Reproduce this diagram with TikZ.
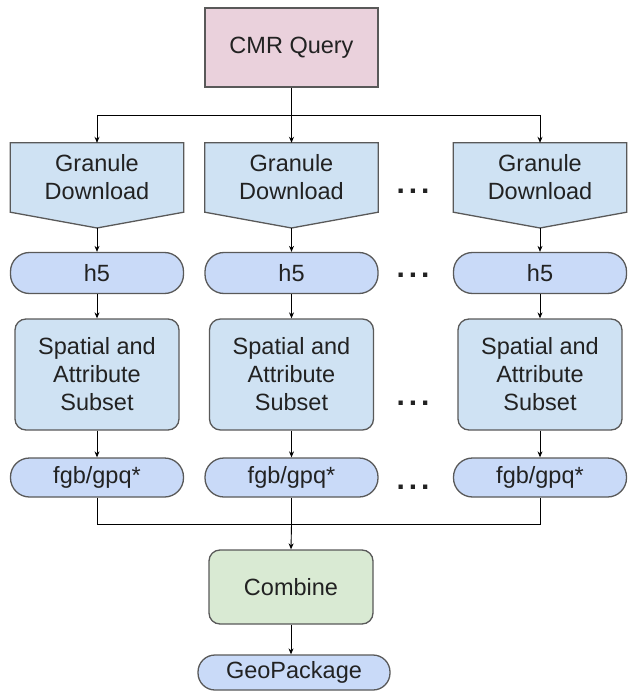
\documentclass[tikz,border=0pt]{standalone}
\usepackage{fontspec}
\setmainfont{Liberation Sans}
\usetikzlibrary{arrows.meta, backgrounds}

% Colores de las cajas
\definecolor{bordeGris}{HTML}{595959}
\definecolor{rosaConsulta}{HTML}{EAD1DC}
\definecolor{azulCaja}{HTML}{CFE2F3}
\definecolor{azulDato}{HTML}{C9DAF8}
\definecolor{verdeUnion}{HTML}{D9EAD3}
\definecolor{textoOscuro}{HTML}{222222}

\begin{document}
\begin{tikzpicture}[x=1pt, y=-1pt,
    caja/.style={draw=bordeGris, line width=1.3pt, text=textoOscuro, align=center,
        inner sep=0pt, font=\fontsize{23.5}{28}\selectfont},
    descarga/.style={text=textoOscuro, align=center, inner sep=0pt,
        minimum width=173pt, minimum height=69pt, font=\fontsize{23.5}{28}\selectfont},
    proceso/.style={caja, fill=azulCaja, rounded corners=11pt,
        minimum width=164pt, minimum height=111pt},
    dato/.style={caja, fill=azulDato, rounded corners=19pt,
        minimum width=173pt, minimum height=41pt},
    flujo/.style={-{Stealth[length=6pt, width=5pt]}, line width=0.9pt, black},
    linea/.style={line width=0.9pt, black},
    puntos/.style={inner sep=0pt, text=textoOscuro, font=\fontsize{30}{30}\selectfont\bfseries}
]

    % --- Parámetros de la maqueta ---
    \def\yRamal{115}   % altura del reparto tras la consulta
    \def\yUnion{524}   % altura donde se juntan las salidas
    \def\xPuntos{413}  % columna de los puntos suspensivos

    \useasboundingbox (0,0) rectangle (627,692);

    % =========================================================================
    % 1. Consulta inicial
    % =========================================================================
    \node[caja, fill=rosaConsulta, minimum width=173pt, minimum height=79pt] (cmr) at (291.5,47.5) {CMR Query};

    % =========================================================================
    % 2. Columnas de procesamiento por gránulo
    % =========================================================================
    \foreach \cx/\n in {97/1, 291.5/2, 540/3} {
        \node[descarga] (gran\n) at (\cx,177.5) {Granule\\Download};
        \coordinate (punta\n) at (\cx,228);
        \node[dato] (hcinco\n) at (\cx,273) {h5};
        \node[proceso] (subset\n) at (\cx,374.5) {Spatial and\\Attribute\\Subset};
        \node[dato, minimum height=39pt] (fgb\n) at (\cx,477.5) {fgb/gpq*};
    }

    % Pentágonos de descarga detrás del texto
    \begin{scope}[on background layer]
        \foreach \n in {1,2,3}
            \draw[draw=bordeGris, line width=1.3pt, fill=azulCaja, line join=miter]
                (gran\n.north west) -- (gran\n.north east) -- (gran\n.south east)
                -- (punta\n) -- (gran\n.south west) -- cycle;
    \end{scope}

    % Puntos suspensivos entre columnas
    \node[puntos] (dots1) at (\xPuntos,191) {.\kern4pt.\kern4pt.};
    \node[puntos] (dots2) at (\xPuntos,275) {.\kern4pt.\kern4pt.};
    \node[puntos] (dots3) at (\xPuntos,403) {.\kern4pt.\kern4pt.};
    \node[puntos] (dots4) at (\xPuntos,487) {.\kern4pt.\kern4pt.};

    % =========================================================================
    % 3. Unión y resultado final
    % =========================================================================
    \node[caja, fill=verdeUnion, rounded corners=11pt, minimum width=164pt, minimum height=74pt] (combine) at (291,587) {Combine};
    \node[caja, fill=azulDato, rounded corners=17pt, minimum width=192pt, minimum height=35pt] (geo) at (294,672.5) {GeoPackage};

    % =========================================================================
    % 4. Conectores
    % =========================================================================
    \coordinate (ramal) at (291.5,\yRamal);
    \coordinate (union) at (291.5,\yUnion);

    % Reparto desde la consulta
    \draw[linea] (cmr.south) -- (ramal);
    \draw[linea] (gran1.north |- ramal) -- (gran3.north |- ramal);

    % Flechas dentro de cada columna
    \foreach \n in {1,2,3} {
        \draw[flujo] (gran\n.north |- ramal) -- (gran\n.north);
        \draw[flujo] (punta\n) -- (hcinco\n.north);
        \draw[flujo] (hcinco\n.south) -- (subset\n.north);
        \draw[flujo] (subset\n.south) -- (fgb\n.north);
    }

    % Recogida de salidas
    \draw[linea] (fgb1.south) -- (fgb1.south |- union) -- (fgb3.south |- union) -- (fgb3.south);
    \draw[linea] (fgb2.south) -- (union);
    \draw[flujo] (union) -- (combine.north);
    \draw[flujo] (combine.south) -- (combine.south |- geo.north);

\end{tikzpicture}
\end{document}
